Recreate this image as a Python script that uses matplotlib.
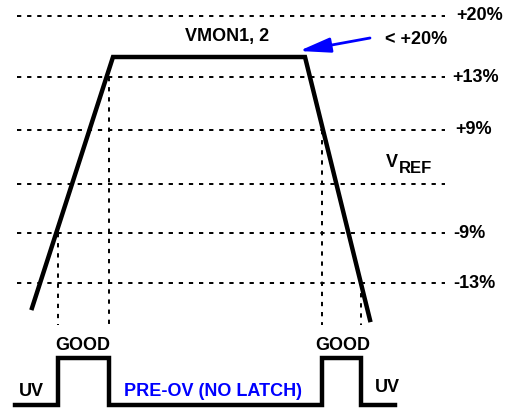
import matplotlib.pyplot as plt

plt.rcParams['font.family'] = ['Liberation Sans', 'DejaVu Sans']

# threshold levels (pixel rows of the drawing) and their labels
level_y = [16, 77, 130, 184, 233, 283]
level_lab = ['+20%', '+13%', '+9%', '', '-9%', '-13%']
level_lab_x = [456, 452, 455, 0, 453, 453]

# VMON trace (trapezoid)
trace_x = [32, 113, 305, 370]
trace_y = [308, 57, 57, 320]

# vertical markers: x, top, bottom
vmark_x = [58, 109, 322, 361]
vmark_top = [233, 77, 130, 283]
vmark_bot = [325, 325, 325, 325]

# digital status signal
sig_x = [15, 58, 58, 109, 109, 322, 322, 361, 361, 395]
sig_y = [405, 405, 358, 358, 405, 405, 358, 358, 405, 405]

blue = '#0000ff'
fs = 13

fig = plt.figure(figsize=(5.15, 4.08), dpi=100)
ax = fig.add_axes([0, 0, 1, 1])
ax.set_xlim(0, 515)
ax.set_ylim(408, 0)
ax.axis('off')

dash = (0, (2.2, 3.0))
for y, lab, lx in zip(level_y, level_lab, level_lab_x):
    ax.plot([17, 445], [y, y], color='black', lw=1.4, linestyle=dash)
    if lab:
        ax.text(lx, y, lab, fontsize=fs, fontweight='bold', va='center', ha='left')

for x, t, b in zip(vmark_x, vmark_top, vmark_bot):
    ax.plot([x, x], [t, b], color='black', lw=1.4, linestyle=dash)

ax.plot(trace_x, trace_y, color='black', lw=3.2, solid_joinstyle='miter')
ax.plot(sig_x, sig_y, color='black', lw=3.2, solid_joinstyle='miter')

ax.text(227, 37, 'VMON1, 2', fontsize=fs, fontweight='bold', ha='center', va='center')
ax.text(385, 40, '< +20%', fontsize=fs, fontweight='bold', ha='left', va='center')
ax.annotate('', xy=(299, 51), xytext=(370, 38),
            arrowprops=dict(arrowstyle='-|>,head_length=1.9,head_width=0.45',
                            color=blue, lw=2, shrinkA=0, shrinkB=0))

ax.text(386, 167, 'V', fontsize=fs, fontweight='bold', ha='left', va='baseline')
ax.text(399, 173, 'REF', fontsize=12, fontweight='bold', ha='left', va='baseline')

ax.text(83, 345, 'GOOD', fontsize=fs, fontweight='bold', ha='center', va='center')
ax.text(343, 345, 'GOOD', fontsize=fs, fontweight='bold', ha='center', va='center')
ax.text(31, 392, 'UV', fontsize=fs, fontweight='bold', ha='center', va='center')
ax.text(387, 387, 'UV', fontsize=fs, fontweight='bold', ha='center', va='center')
ax.text(213, 392, 'PRE-OV (NO LATCH)', fontsize=fs, fontweight='bold',
        ha='center', va='center', color=blue)

fig.savefig('out.png', dpi=100)
